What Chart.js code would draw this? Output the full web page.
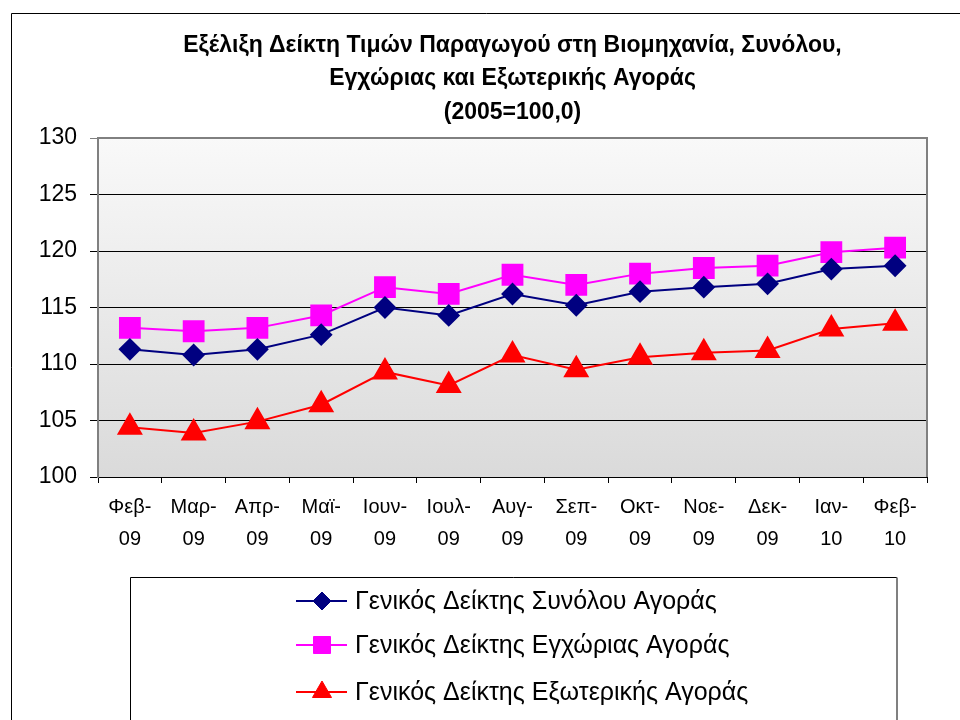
<!DOCTYPE html>
<html>
<head>
<meta charset="utf-8">
<script src="https://cdn.jsdelivr.net/npm/chart.js@4"></script>
<style>
  html, body { margin: 0; padding: 0; background: #fff; }
  #wrap { width: 960px; height: 720px; }
</style>
</head>
<body>
<div id="wrap"><canvas id="ppiChart" width="960" height="720"></canvas></div>
<script>
// μήνες / έτη του άξονα x
var months = ['Φεβ-', 'Μαρ-', 'Απρ-', 'Μαϊ-', 'Ιουν-', 'Ιουλ-', 'Αυγ-', 'Σεπ-', 'Οκτ-', 'Νοε-', 'Δεκ-', 'Ιαν-', 'Φεβ-'];
var years = ['09', '09', '09', '09', '09', '09', '09', '09', '09', '09', '09', '10', '10'];

// τιμές δεικτών (2005=100,0)
var totalMarket = [111.3, 110.8, 111.3, 112.6, 115.0, 114.3, 116.2, 115.2, 116.4, 116.8, 117.1, 118.4, 118.7];
var domesticMarket = [113.2, 112.9, 113.2, 114.3, 116.8, 116.2, 117.9, 117.0, 118.0, 118.5, 118.7, 119.9, 120.3];
var foreignMarket = [104.4, 103.9, 104.9, 106.4, 109.3, 108.1, 110.8, 109.5, 110.6, 111.0, 111.2, 113.1, 113.6];

var seriesNames = ['Γενικός Δείκτης Συνόλου Αγοράς', 'Γενικός Δείκτης Εγχώριας Αγοράς', 'Γενικός Δείκτης Εξωτερικής Αγοράς'];
var titleLines = ['Εξέλιξη Δείκτη Τιμών Παραγωγού στη Βιομηχανία, Συνόλου,', 'Εγχώριας και Εξωτερικής Αγοράς', '(2005=100,0)'];

var yMin = 100, yMax = 130, yStep = 5;

var FONT = "'Liberation Sans', Arial, sans-serif";

var labels = months.map(function (m, i) { return [m, years[i]]; });

// πλαίσιο, φόντο περιοχής σχεδίασης
var framePlugin = {
    id: 'frame',
    beforeDraw: function (chart) {
        var ctx = chart.ctx, a = chart.chartArea;
        ctx.save();
        ctx.fillStyle = '#ffffff';
        ctx.fillRect(0, 0, chart.width, chart.height);
        // εξωτερικό πλαίσιο
        ctx.strokeStyle = '#000000';
        ctx.lineWidth = 1;
        ctx.beginPath();
        ctx.moveTo(11.5, chart.height + 5);
        ctx.lineTo(11.5, 13.5);
        ctx.lineTo(chart.width + 5, 13.5);
        ctx.stroke();
        // διαβάθμιση
        var g = ctx.createLinearGradient(0, a.top, 0, a.bottom);
        g.addColorStop(0, '#f9f9f9');
        g.addColorStop(1, '#dadada');
        ctx.fillStyle = g;
        ctx.fillRect(a.left, a.top, a.right - a.left, a.bottom - a.top);
        ctx.restore();
    },
    beforeDatasetsDraw: function (chart) {
        var ctx = chart.ctx, a = chart.chartArea;
        ctx.save();
        ctx.strokeStyle = '#808080';
        ctx.lineWidth = 2;
        ctx.beginPath();
        ctx.moveTo(a.left, a.top);
        ctx.lineTo(a.right, a.top);
        ctx.lineTo(a.right, a.bottom);
        ctx.stroke();
        ctx.restore();
    }
};

function drawMarker(ctx, ds, x, y) {
    if (Chart.helpers && Chart.helpers.drawPoint) {
        ctx.fillStyle = ds.pointBackgroundColor;
        ctx.strokeStyle = ds.pointBorderColor;
        ctx.lineWidth = 1;
        Chart.helpers.drawPoint(ctx, { pointStyle: ds.pointStyle, rotation: 0, radius: ds.pointRadius, borderWidth: 1 }, x, y);
    }
}

// υπόμνημα σε πλαίσιο κάτω από το γράφημα
var boxLegendPlugin = {
    id: 'boxLegend',
    afterDraw: function (chart) {
        var ctx = chart.ctx;
        var left = 130.5, top = 577.5, right = 897;
        ctx.save();
        ctx.strokeStyle = '#000000';
        ctx.lineWidth = 1;
        ctx.beginPath();
        ctx.moveTo(left, chart.height + 5);
        ctx.lineTo(left, top);
        ctx.lineTo(right, top);
        ctx.stroke();
        ctx.strokeStyle = '#808080';
        ctx.lineWidth = 2;
        ctx.beginPath();
        ctx.moveTo(right, top);
        ctx.lineTo(right, chart.height + 5);
        ctx.stroke();

        var rows = [601, 645, 692];
        ctx.font = '25px ' + FONT;
        ctx.textBaseline = 'middle';
        ctx.textAlign = 'left';
        chart.data.datasets.forEach(function (ds, i) {
            var y = rows[i];
            ctx.strokeStyle = ds.borderColor;
            ctx.lineWidth = 2;
            ctx.beginPath();
            ctx.moveTo(296, y);
            ctx.lineTo(347, y);
            ctx.stroke();
            var r = ds.pointStyle === 'triangle' ? 11 : (ds.pointStyle === 'rect' ? 12 : 9);
            drawMarker(ctx, { pointStyle: ds.pointStyle, pointRadius: r, pointBackgroundColor: ds.pointBackgroundColor, pointBorderColor: ds.pointBorderColor }, 322, y);
            ctx.fillStyle = '#000000';
            ctx.fillText(ds.label, 355, y + 1);
        });
        ctx.restore();
    }
};

var config = {
    type: 'line',
    data: {
        labels: labels,
        datasets: [{
            label: seriesNames[0],
            data: totalMarket,
            borderColor: '#000080',
            backgroundColor: '#000080',
            pointBackgroundColor: '#000080',
            pointBorderColor: '#000080',
            pointStyle: 'rectRot',
            pointRadius: 10,
            borderWidth: 2
        }, {
            label: seriesNames[1],
            data: domesticMarket,
            borderColor: '#ff00ff',
            backgroundColor: '#ff00ff',
            pointBackgroundColor: '#ff00ff',
            pointBorderColor: '#ff00ff',
            pointStyle: 'rect',
            pointRadius: 14,
            borderWidth: 2
        }, {
            label: seriesNames[2],
            data: foreignMarket,
            borderColor: '#ff0000',
            backgroundColor: '#ff0000',
            pointBackgroundColor: '#ff0000',
            pointBorderColor: '#ff0000',
            pointStyle: 'triangle',
            pointRadius: 13,
            borderWidth: 2
        }]
    },
    options: {
        responsive: false,
        animation: false,
        layout: { padding: { top: 29, left: 0, right: 33, bottom: 153 } },
        plugins: {
            legend: { display: false },
            tooltip: { enabled: false },
            title: {
                display: true,
                fullSize: false,
                text: titleLines,
                color: '#000000',
                font: { family: FONT, size: 23, weight: 'bold', lineHeight: 1.45 },
                padding: { top: 0, bottom: 9 }
            }
        },
        scales: {
            x: {
                offset: true,
                grid: {
                    offset: true,
                    drawOnChartArea: false,
                    drawTicks: true,
                    tickLength: 6,
                    color: '#000000'
                },
                border: { display: true, color: '#000000', width: 1 },
                ticks: {
                    color: '#000000',
                    font: { family: FONT, size: 20, lineHeight: 1.6 },
                    maxRotation: 0,
                    autoSkip: false,
                    padding: 8
                },
                afterFit: function (scale) { scale.height = 90; }
            },
            y: {
                min: yMin,
                max: yMax,
                grid: {
                    color: function (c) { return c.tick && c.tick.value === yMax ? '#808080' : '#000000'; },
                    lineWidth: 1,
                    tickLength: 8
                },
                border: { display: true, color: '#808080', width: 2 },
                ticks: {
                    stepSize: yStep,
                    color: '#000000',
                    font: { family: FONT, size: 23 },
                    padding: 13
                },
                afterFit: function (scale) { scale.width = 98; }
            }
        }
    },
    plugins: [framePlugin, boxLegendPlugin]
};

window.onload = function () {
    window.ppiChart = new Chart(document.getElementById('ppiChart'), config);
};
</script>
</body>
</html>
